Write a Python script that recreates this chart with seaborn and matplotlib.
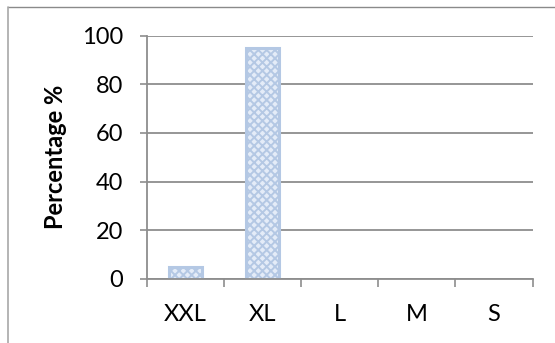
import matplotlib
matplotlib.use("Agg")
import matplotlib.pyplot as plt
from matplotlib.lines import Line2D
from matplotlib.ticker import FixedLocator, NullFormatter
import seaborn as sns
import pandas as pd

# Shirt size distribution
sizes = ["XXL", "XL", "L", "M", "S"]
percentages = [5, 95, 0, 0, 0]
y_ticks = [0, 20, 40, 60, 80, 100]

sns.set_theme(style="white")
plt.rcParams["font.family"] = ["Lato", "DejaVu Sans"]
plt.rcParams["hatch.color"] = "#5080cc"
plt.rcParams["hatch.linewidth"] = 1.4

df = pd.DataFrame({"size": sizes, "pct": percentages})

fig = plt.figure(figsize=(5.55, 3.43), dpi=100)
ax = fig.add_axes([146.7 / 555, 1 - 278.7 / 343, 386.0 / 555, 243.0 / 343])

sns.barplot(data=df, x="size", y="pct", order=sizes, ax=ax, width=0.42,
            color="#e4ecf8", saturation=1, edgecolor="#b4c8e4", linewidth=2.2)
for p, v in zip(ax.patches, percentages):
    p.set_hatch("xxxx")
    if v == 0:
        p.set_visible(False)

grid_c = "#8e8e8e"
ax.set_ylim(0, 100)
ax.set_xlim(-0.5, len(sizes) - 0.5)
ax.set_yticks(y_ticks)
ax.yaxis.grid(True, color=grid_c, linewidth=1.3)
ax.set_axisbelow(True)

for side in ("top", "right"):
    ax.spines[side].set_visible(False)
for side in ("left", "bottom"):
    ax.spines[side].set_color(grid_c)
    ax.spines[side].set_linewidth(1.3)

# category separators as minor ticks below the axis
ax.xaxis.set_minor_locator(FixedLocator([i - 0.5 for i in range(len(sizes) + 1)]))
ax.xaxis.set_minor_formatter(NullFormatter())
ax.tick_params(axis="x", which="major", length=0, pad=18, labelsize=17, colors="black")
ax.tick_params(axis="x", which="minor", length=5.5, width=1.2, color=grid_c, direction="out", bottom=True)
ax.tick_params(axis="y", which="major", length=5, width=1.2, color=grid_c, direction="out",
               left=True, pad=12, labelsize=17, labelcolor="black")

ax.set_xlabel("")
ax.set_ylabel("Percentage %", fontsize=17, fontweight="bold", color="black", labelpad=11)

# outer chart frame
fig.add_artist(Line2D([7.5 / 555, 1.05], [1 - 6.5 / 343] * 2, transform=fig.transFigure,
                      color="#8a8a8a", linewidth=1.0))
fig.add_artist(Line2D([7.5 / 555] * 2, [-0.05, 1 - 6.5 / 343], transform=fig.transFigure,
                      color="#a8a8a8", linewidth=1.2))

fig.savefig("out.png", dpi=100)
